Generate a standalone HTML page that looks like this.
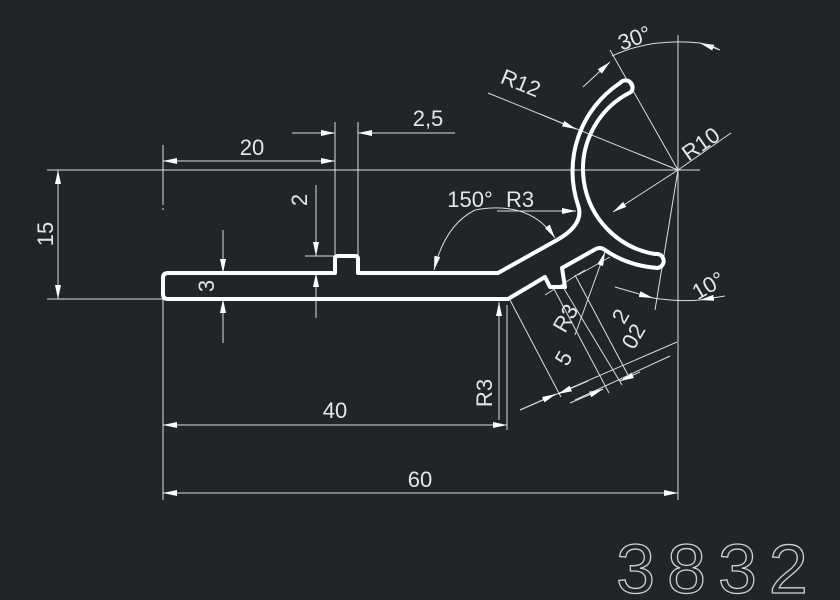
<!DOCTYPE html>
<html><head><meta charset="utf-8"><style>
html,body{margin:0;padding:0;background:#212529;}
svg{display:block;}
text{font-family:"Liberation Sans",sans-serif;fill:#e6e6e6;font-size:22px;}
</style></head><body>
<svg width="840" height="600" viewBox="0 0 840 600">
<defs>
<marker id="a" viewBox="0 0 14 6" refX="14" refY="3" markerWidth="14" markerHeight="6" orient="auto" markerUnits="userSpaceOnUse"><path d="M0,0 L14,3 L0,6 Z" fill="#fff"/></marker>
</defs>
<g stroke="#dcdcdc" stroke-width="1" fill="none">
<!-- reference lines -->
<line x1="47" y1="170" x2="700" y2="170"/>
<line x1="47" y1="299" x2="163" y2="299"/>
<line x1="678" y1="35" x2="678" y2="500"/>
<line x1="163" y1="299" x2="163" y2="500"/>
<line x1="163" y1="145" x2="163" y2="210" stroke-dasharray="60,3"/>
<line x1="335" y1="122" x2="335" y2="256"/>
<line x1="358" y1="122" x2="358" y2="256"/>
<line x1="507" y1="305" x2="507" y2="430"/>
<!-- 15 -->
<line x1="58" y1="170" x2="58" y2="299" marker-start="url(#a)" marker-end="url(#a)" style="marker-start:none"/>
<line x1="58" y1="235" x2="58" y2="170" marker-end="url(#a)"/>
<!-- 20 -->
<line x1="250" y1="161" x2="163" y2="161" marker-end="url(#a)"/>
<line x1="250" y1="161" x2="335" y2="161" marker-end="url(#a)"/>
<!-- 2,5 -->
<line x1="292" y1="133" x2="335" y2="133" marker-end="url(#a)"/>
<line x1="455" y1="133" x2="358" y2="133" marker-end="url(#a)"/>
<!-- 2 -->
<line x1="316" y1="185" x2="316" y2="256" marker-end="url(#a)"/>
<line x1="316" y1="318" x2="316" y2="273" marker-end="url(#a)"/>
<line x1="305" y1="256" x2="335" y2="256"/>
<!-- 3 -->
<line x1="223" y1="230" x2="223" y2="273" marker-end="url(#a)"/>
<line x1="223" y1="343" x2="223" y2="299" marker-end="url(#a)"/>
<!-- 40 -->
<line x1="335" y1="425" x2="163" y2="425" marker-end="url(#a)"/>
<line x1="335" y1="425" x2="507" y2="425" marker-end="url(#a)"/>
<!-- 60 -->
<line x1="420" y1="493" x2="163" y2="493" marker-end="url(#a)"/>
<line x1="420" y1="493" x2="678" y2="493" marker-end="url(#a)"/>
<!-- R3 bottom -->
<line x1="499" y1="420" x2="499" y2="302" marker-end="url(#a)"/>
<!-- 150 arc -->
<path d="M475,210 Q445,225 434,270" marker-end="url(#a)"/>
<path d="M475,210 Q530,200 555,238" marker-end="url(#a)"/>
<!-- R3 leader -->
<line x1="497" y1="211" x2="576" y2="211" marker-end="url(#a)"/>
<!-- R12 -->
<line x1="488" y1="93" x2="678" y2="170"/>
<line x1="540" y1="114" x2="576" y2="129" marker-end="url(#a)"/>
<!-- R10 -->
<line x1="678" y1="170" x2="731" y2="133"/>
<line x1="678" y1="170" x2="613" y2="212" marker-end="url(#a)"/>
<!-- 30 -->
<line x1="678" y1="170" x2="610" y2="50"/>
<path d="M612,56 Q650,38 700,43" />
<line x1="583" y1="87" x2="610" y2="62" marker-end="url(#a)"/>
<line x1="720" y1="50" x2="700" y2="43" marker-end="url(#a)"/>
<path d="M700,43 Q712,45 720,50"/>
<!-- 10 -->
<line x1="678" y1="170" x2="655" y2="310"/>
<line x1="615" y1="287" x2="653" y2="298" marker-end="url(#a)"/>
<path d="M653,298 Q680,302 700,300"/>
<line x1="725" y1="296" x2="700" y2="300" marker-end="url(#a)"/>
<!-- bottom right skew dims -->
<line x1="510" y1="300" x2="561" y2="397"/>
<line x1="553" y1="287" x2="609" y2="393"/>
<line x1="563" y1="287" x2="622" y2="385"/>
<line x1="575" y1="275" x2="628" y2="375"/>
<line x1="520" y1="410" x2="677" y2="342"/>
<line x1="520" y1="410" x2="556" y2="394" marker-start="none" marker-end="url(#a)"/>
<line x1="588" y1="381" x2="558" y2="394" marker-end="url(#a)"/>
<line x1="570" y1="403" x2="603" y2="389" marker-end="url(#a)"/>
<line x1="640" y1="372" x2="620" y2="381" marker-end="url(#a)"/>
<line x1="575" y1="400" x2="670" y2="356"/>
<line x1="578" y1="275" x2="610" y2="257"/>
<line x1="575" y1="335" x2="605" y2="252" marker-end="url(#a)"/>
<line x1="545" y1="295" x2="585" y2="270"/>
</g>
<!-- profile -->
<path d="M168,273 L335,273 L335,259 Q335,256 338,256 L355,256 Q358,256 358,259 L358,273 L498,273 L557,240 Q585,224 578,205 A106,106 0 0 1 620,83 A6,6 0 0 1 631,92 A86,86 0 0 0 655,254 A7,7 0 0 1 658,268 Q628,266 605,250 Q600,246 594,250 L562,268 L565,287 L550,287 L545,277 L508,299 L168,299 Q163,299 163,294 L163,278 Q163,273 168,273 Z" fill="none" stroke="#fff" stroke-width="4" stroke-linejoin="round"/>
<!-- labels -->
<text transform="translate(53,234) rotate(-90)" text-anchor="middle">15</text>
<text x="252" y="155" text-anchor="middle">20</text>
<text x="428" y="126" text-anchor="middle">2,5</text>
<text transform="translate(307,200) rotate(-90)" text-anchor="middle">2</text>
<text transform="translate(214,286) rotate(-90)" text-anchor="middle">3</text>
<text x="335" y="418" text-anchor="middle">40</text>
<text x="420" y="487" text-anchor="middle">60</text>
<text transform="translate(492,393) rotate(-90)" text-anchor="middle">R3</text>
<text x="470" y="207" text-anchor="middle">150°</text>
<text x="520" y="207" text-anchor="middle">R3</text>
<text transform="translate(518,90) rotate(22)" text-anchor="middle">R12</text>
<text transform="translate(705,150) rotate(-35)" text-anchor="middle">R10</text>
<text transform="translate(637,45) rotate(-20)" text-anchor="middle">30°</text>
<text transform="translate(712,292) rotate(-30)" text-anchor="middle">10°</text>
<text transform="translate(572,322) rotate(-60)" text-anchor="middle">R3</text>
<text transform="translate(570,362) rotate(-60)" text-anchor="middle">5</text>
<text transform="translate(627,320) rotate(-60)" text-anchor="middle">2</text>
<text transform="translate(640,340) rotate(-60)" text-anchor="middle">02</text>
<text x="718" y="593" text-anchor="middle" style="font-size:70px;fill:none;stroke:#d0d0d0;stroke-width:1.3;letter-spacing:12px">3832</text>
</svg>
</body></html>
